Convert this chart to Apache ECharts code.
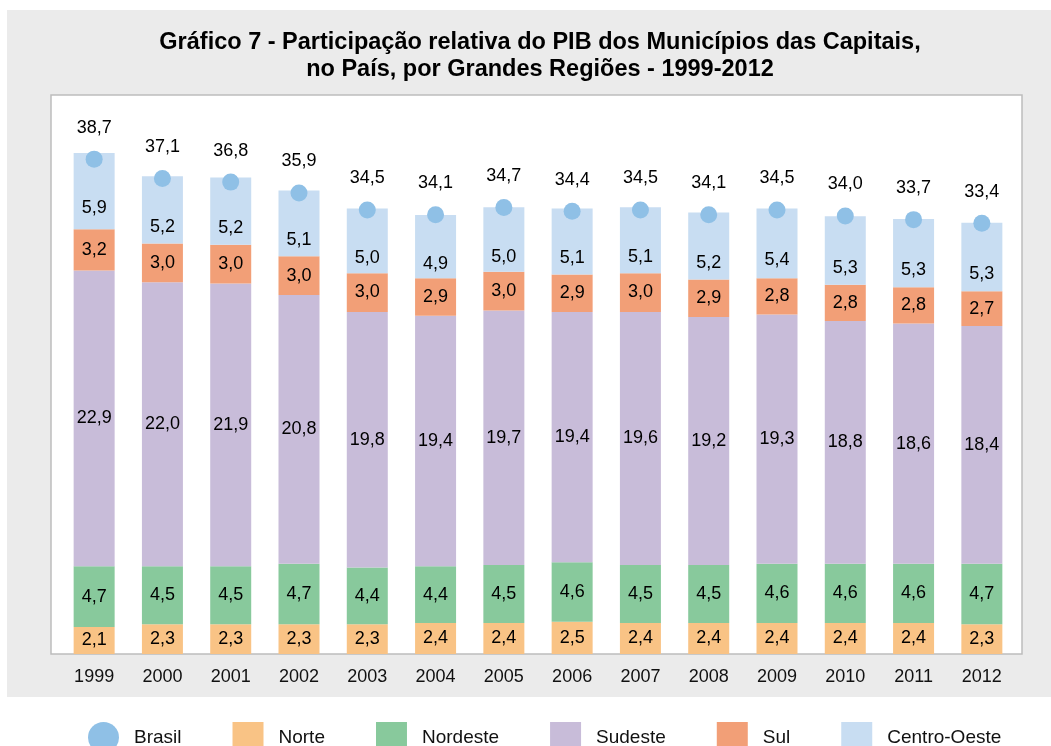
<!DOCTYPE html>
<html>
<head>
<meta charset="utf-8">
<script src="https://cdn.jsdelivr.net/npm/echarts@6/dist/echarts.min.js"></script>
<style>
  html, body { margin: 0; padding: 0; background: #fff; }
  #chart { width: 1051px; height: 746px; }
</style>
</head>
<body>
<div id="chart"></div>
<script>
// dados do gráfico
const years = ['1999', '2000', '2001', '2002', '2003', '2004', '2005', '2006', '2007', '2008', '2009', '2010', '2011', '2012']
const brasil = [38.7, 37.1, 36.8, 35.9, 34.5, 34.1, 34.7, 34.4, 34.5, 34.1, 34.5, 34.0, 33.7, 33.4]
const norte = [2.1, 2.3, 2.3, 2.3, 2.3, 2.4, 2.4, 2.5, 2.4, 2.4, 2.4, 2.4, 2.4, 2.3]
const nordeste = [4.7, 4.5, 4.5, 4.7, 4.4, 4.4, 4.5, 4.6, 4.5, 4.5, 4.6, 4.6, 4.6, 4.7]
const sudeste = [22.9, 22.0, 21.9, 20.8, 19.8, 19.4, 19.7, 19.4, 19.6, 19.2, 19.3, 18.8, 18.6, 18.4]
const sul = [3.2, 3.0, 3.0, 3.0, 3.0, 2.9, 3.0, 2.9, 3.0, 2.9, 2.8, 2.8, 2.8, 2.7]
const centroOeste = [5.9, 5.2, 5.2, 5.1, 5.0, 4.9, 5.0, 5.1, 5.1, 5.2, 5.4, 5.3, 5.3, 5.3]

const font = '"Liberation Sans", Arial, sans-serif'
const fmt = p => p.value.toFixed(1).replace('.', ',')

const barSeries = (name, data, color, offsetY) => ({
  name,
  type: 'bar',
  stack: 'total',
  barWidth: 41,
  data,
  itemStyle: { color, borderWidth: 0 },
  label: {
    show: true,
    position: 'inside',
    offset: [0, offsetY || 0],
    formatter: fmt,
    color: '#000',
    fontSize: 18,
    fontFamily: font
  },
  emphasis: { disabled: true }
})

const myChart = echarts.init(document.querySelector('#chart'))
const option = {
  animation: false,
  backgroundColor: '#fff',
  textStyle: { fontFamily: font },
  graphic: [
    // fundo cinza
    { type: 'rect', z: -10, shape: { x: 7, y: 10, width: 1044, height: 687 }, style: { fill: '#ebebeb' } },
    // caixa branca
    { type: 'rect', z: -9, shape: { x: 51, y: 95, width: 971, height: 559 }, style: { fill: '#fff', stroke: '#bdbdbd', lineWidth: 1.5 } }
  ],
  title: {
    text: 'Gráfico 7 - Participação relativa do PIB dos Municípios das Capitais,\nno País, por Grandes Regiões - 1999-2012',
    left: 535,
    textAlign: 'center',
    top: 24,
    textStyle: {
      fontFamily: font,
      fontWeight: 'bold',
      fontSize: 23.5,
      lineHeight: 27,
      color: '#000'
    }
  },
  legend: {
    top: 717,
    left: 83,
    itemWidth: 31,
    itemHeight: 31,
    itemGap: 51,
    textStyle: { fontSize: 19, color: '#111', fontFamily: font, padding: [0, 0, 0, 10] },
    data: [
      { name: 'Brasil', icon: 'circle', itemStyle: { opacity: 1 } },
      { name: 'Norte', icon: 'rect' },
      { name: 'Nordeste', icon: 'rect' },
      { name: 'Sudeste', icon: 'rect' },
      { name: 'Sul', icon: 'rect' },
      { name: 'Centro-Oeste', icon: 'rect' }
    ]
  },
  grid: {
    left: 60,
    right: 35,
    top: 95,
    bottom: 92
  },
  xAxis: {
    type: 'category',
    data: years,
    axisLine: { show: false },
    axisTick: { show: false },
    axisLabel: { color: '#111', fontSize: 18, margin: 14, fontFamily: font }
  },
  yAxis: [
    { type: 'value', min: 0, max: 43.3, show: false, splitLine: { show: false } },
    { type: 'value', min: -2.2, max: 44, show: false, splitLine: { show: false } }
  ],
  series: [
    barSeries('Norte', norte, '#f9c385'),
    barSeries('Nordeste', nordeste, '#88c99c'),
    barSeries('Sudeste', sudeste, '#c8bcd9'),
    barSeries('Sul', sul, '#f29f77'),
    barSeries('Centro-Oeste', centroOeste, '#c8ddf2', 17),
    {
      name: 'Brasil',
      type: 'scatter',
      yAxisIndex: 1,
      data: brasil,
      symbol: 'circle',
      symbolSize: 17,
      z: 5,
      itemStyle: { color: '#8fc0e6', opacity: 1 },
      label: {
        show: true,
        position: 'top',
        distance: 14,
        formatter: fmt,
        color: '#000',
        fontSize: 18,
        fontFamily: font
      },
      emphasis: { disabled: true }
    }
  ]
}
myChart.setOption(option)
</script>
</body>
</html>
